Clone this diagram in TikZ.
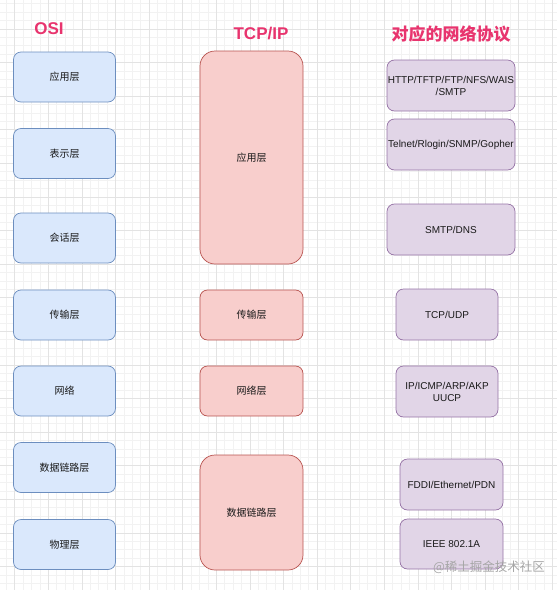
\documentclass[tikz,border=0pt]{standalone}
\usepackage{fontspec}
\setmainfont{Liberation Sans}
\newfontfamily\cjk{Noto Sans CJK SC}
\usepackage{xcolor}
\usepackage{tikz}
\usetikzlibrary{positioning}
\definecolor{osifill}{HTML}{DAE8FC}
\definecolor{osiline}{HTML}{6C8EBF}
\definecolor{tcpfill}{HTML}{F8CECC}
\definecolor{tcpline}{HTML}{B85450}
\definecolor{protofill}{HTML}{E1D5E7}
\definecolor{protoline}{HTML}{9673A6}
\definecolor{titlepink}{RGB}{232,52,110}

\begin{document}
\begin{tikzpicture}[
  x=1pt, y=-1pt,
  gridminor/.style={black!5, line width=0.5pt},
  gridmajor/.style={black!11, line width=0.5pt},
  layer/.style={rounded corners=7.5pt, line width=0.7pt, minimum height=50pt,
    inner sep=0pt, text=black!90, align=center},
  osi/.style={layer, draw=osiline, fill=osifill, minimum width=102pt,
    font=\cjk\fontsize{10}{12}\selectfont},
  tcp/.style={layer, draw=tcpline, fill=tcpfill, minimum width=103pt,
    font=\cjk\fontsize{10}{12}\selectfont},
  tall/.style={rounded corners=15pt},
  proto/.style={layer, draw=protoline, fill=protofill,
    font=\fontsize{10}{12}\selectfont},
  heading/.style={titlepink, inner sep=0pt},
]
\useasboundingbox (0,0) rectangle (557,590);
% background grid: minor every 8.4, major every 33.6
\foreach \i in {0,...,65} {
  \draw[gridminor] ({6.2+8.4*\i},0) -- ({6.2+8.4*\i},590);
}
\foreach \j in {0,...,70} {
  \draw[gridminor] (0,{3.6+8.4*\j}) -- (557,{3.6+8.4*\j});
}
\foreach \i in {0,...,16} {
  \draw[gridmajor] ({14.6+33.6*\i},0) -- ({14.6+33.6*\i},590);
}
\foreach \j in {0,...,17} {
  \draw[gridmajor] (0,{-4.8+33.6*\j}) -- (557,{-4.8+33.6*\j});
}
% column headings
\node[heading, font=\bfseries\fontsize{17}{20}\selectfont] (hosi) at (49,28.4) {OSI};
\node[heading, font=\bfseries\fontsize{17}{20}\selectfont] (htcp) at (261,33.7) {TCP/IP};
\node[heading, font=\cjk\bfseries\fontsize{17}{20}\selectfont] (hproto) at (451,33.7) {对应的网络协议};
% OSI seven layers
\node[osi] (osi7) at (64.5,77)    {应用层};
\node[osi] (osi6) at (64.5,153.5) {表示层};
\node[osi] (osi5) at (64.5,238)   {会话层};
\node[osi] (osi4) at (64.5,315)   {传输层};
\node[osi] (osi3) at (64.5,391)   {网络};
\node[osi] (osi2) at (64.5,467.5) {数据链路层};
\node[osi] (osi1) at (64.5,544.5) {物理层};
% TCP/IP four layers
\node[tcp, tall, minimum height=213pt] (tcp4) at (251.5,157.5) {应用层};
\node[tcp] (tcp3) at (251.5,315) {传输层};
\node[tcp] (tcp2) at (251.5,391) {网络层};
\node[tcp, tall, minimum height=115pt] (tcp1) at (251.5,512.5) {数据链路层};
% protocols of each layer
\node[proto, minimum width=128pt, minimum height=51pt] (pr1) at (451,85.5)  {HTTP/TFTP/FTP/NFS/WAIS\\/SMTP};
\node[proto, minimum width=128pt, minimum height=51pt] (pr2) at (451,144.5) {Telnet/Rlogin/SNMP/Gopher};
\node[proto, minimum width=128pt, minimum height=51pt] (pr3) at (451,229.5) {SMTP/DNS};
\node[proto, minimum width=102pt, minimum height=51pt] (pr4) at (447,314.5) {TCP/UDP};
\node[proto, minimum width=102pt, minimum height=51pt] (pr5) at (447,391.5) {IP/ICMP/ARP/AKP\\UUCP};
\node[proto, minimum width=103pt, minimum height=51pt] (pr6) at (451.5,484.5) {FDDI/Ethernet/PDN};
\node[proto, minimum width=103pt] (pr7) at (451.5,544) {IEEE 802.1A};
% watermark
\node[text=black!35, font=\cjk\fontsize{12.5}{14}\selectfont, inner sep=0pt] (mark) at (489,567) {@稀土掘金技术社区};
\end{tikzpicture}
\end{document}
